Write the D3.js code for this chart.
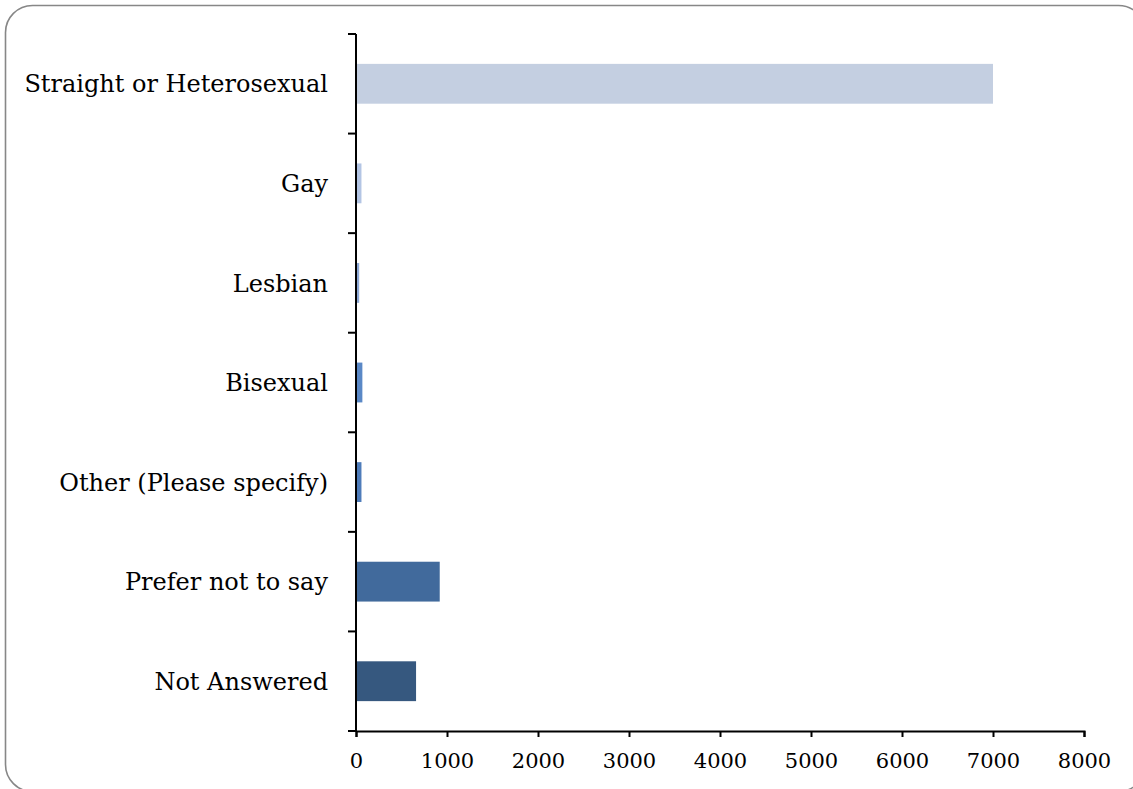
<!DOCTYPE html>
<html><head><meta charset="utf-8">
<script src="https://cdn.jsdelivr.net/npm/d3@7"></script>
<style>
html,body{margin:0;padding:0;background:#fff;}
svg{display:block;}
text{font-family:"DejaVu Serif","Liberation Serif",serif;fill:#000;}
</style></head>
<body>
<svg id="chart" width="1133" height="789"></svg>
<script>
const categories = ["Straight or Heterosexual","Gay","Lesbian","Bisexual","Other (Please specify)","Prefer not to say","Not Answered"];
const values = [7000, 60, 35, 70, 60, 920, 660];
const colors = ["#C4CFE1","#B3C5E4","#8EA9D6","#5A88C6","#4E7CBA","#416A9C","#36587F"];
const xTicks = [0,1000,2000,3000,4000,5000,6000,7000,8000];

(function(){
const svg = d3.select("#chart");
svg.append("rect").attr("x",5.5).attr("y",5.5).attr("width",1140).attr("height",786)
  .attr("rx",27).attr("ry",27).attr("fill","#fff").attr("stroke","#878787").attr("stroke-width",1.6);

const mLeft = 356, mRight = 1084, mTop = 34, mBottom = 731;
const x = d3.scaleLinear().domain([0,8000]).range([mLeft,mRight]);
const y = d3.scaleBand().domain(categories).range([mTop,mBottom]).paddingInner(0.6).paddingOuter(0.3);

svg.append("g").selectAll("rect").data(categories).join("rect")
  .attr("x", x(0))
  .attr("y", d => y(d))
  .attr("width", (d,i) => x(values[i]) - x(0))
  .attr("height", y.bandwidth())
  .attr("fill", (d,i) => colors[i]);

// x axis
const xAxis = svg.append("g").attr("transform",`translate(0,${mBottom})`)
  .call(d3.axisBottom(x).tickValues(xTicks).tickFormat(d3.format("d")).tickSize(6).tickSizeOuter(6));
xAxis.select(".domain").attr("stroke","#000").attr("stroke-width",2);
xAxis.selectAll(".tick line").attr("stroke","#000").attr("stroke-width",2);
xAxis.selectAll(".tick text").attr("font-family","DejaVu Serif").attr("font-size",21).attr("dy","1.33em").attr("fill","#000");

// y axis: ticks between categories
const step = y.step();
const yBoundaries = d3.range(categories.length + 1).map(i => mTop + i*step);
const yAxis = svg.append("g");
yAxis.append("line").attr("x1",mLeft).attr("x2",mLeft).attr("y1",mTop).attr("y2",mBottom)
  .attr("stroke","#000").attr("stroke-width",2);
yAxis.selectAll("line.t").data(yBoundaries).join("line").attr("class","t")
  .attr("x1",mLeft-8).attr("x2",mLeft).attr("y1",d=>d).attr("y2",d=>d)
  .attr("stroke","#000").attr("stroke-width",2);
yAxis.selectAll("text").data(categories).join("text")
  .attr("x", 328).attr("y", d => y(d) + y.bandwidth()/2)
  .attr("dy","0.36em").attr("text-anchor","end")
  .attr("font-size",24).text(d=>d);
})();
</script>
</body></html>
